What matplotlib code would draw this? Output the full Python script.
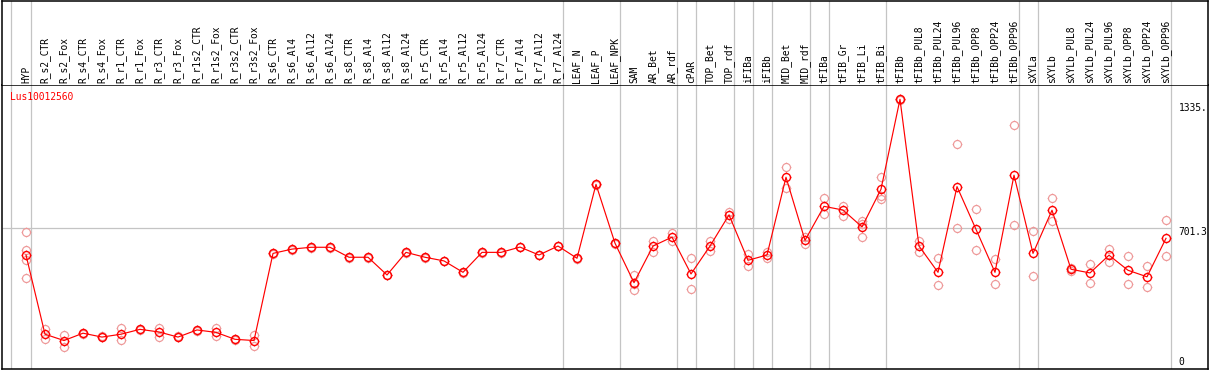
"""
Expression profile of one gene across sample groups (mean + replicates).
"""

import numpy as np
import matplotlib
matplotlib.use("Agg")
import matplotlib.pyplot as plt
from matplotlib.path import Path

W, H = 1209, 370

gene = "Lus10012560"

categories = [
    "HYP", "R_s2_CTR", "R_s2_Fox", "R_s4_CTR", "R_s4_Fox", "R_r1_CTR",
    "R_r1_Fox", "R_r3_CTR", "R_r3_Fox", "R_r1s2_CTR", "R_r1s2_Fox",
    "R_r3s2_CTR", "R_r3s2_Fox", "R_s6_CTR", "R_s6_Al4", "R_s6_Al12",
    "R_s6_Al24", "R_s8_CTR", "R_s8_Al4", "R_s8_Al12", "R_s8_Al24",
    "R_r5_CTR", "R_r5_Al4", "R_r5_Al12", "R_r5_Al24", "R_r7_CTR",
    "R_r7_Al4", "R_r7_Al12", "R_r7_Al24", "LEAF_N", "LEAF_P", "LEAF_NPK",
    "SAM", "AR_Bet", "AR_rdf", "cPAR", "TOP_Bet", "TOP_rdf", "iFIBa",
    "iFIBb", "MID_Bet", "MID_rdf", "tFIBa", "tFIB_Gr", "tFIB_Li", "tFIB_Bi",
    "tFIBb", "tFIBb_PUL8", "tFIBb_PUL24", "tFIBb_PUL96", "tFIBb_OPP8",
    "tFIBb_OPP24", "tFIBb_OPP96", "sXYLa", "sXYLb", "sXYLb_PUL8",
    "sXYLb_PUL24", "sXYLb_PUL96", "sXYLb_OPP8", "sXYLb_OPP24", "sXYLb_OPP96",
]

means = [
    570, 181, 150, 186, 167, 181, 205, 192, 167, 202, 190, 156, 150,
    578, 599, 608, 608, 559, 559, 472, 583, 559, 541, 485, 583, 583,
    609, 570, 614, 554, 917, 628, 434, 614, 658, 477, 614, 767, 544,
    570, 952, 642, 809, 791, 708, 893, 1335, 614, 485, 906, 696, 485,
    962, 578, 790, 500, 482, 569, 495, 463, 652,
]

replicates = [
    [682, 595, 546, 456], [207, 156], [179, 120], [188, 183], [165, 170],
    [210, 153], [208, 202], [213, 167], [165, 170], [199, 204], [210, 172],
    [158, 154], [177, 122],
    [576, 580], [597, 601], [606, 610], [606, 610], [557, 561], [557, 561],
    [470, 474], [581, 585], [557, 561], [539, 543], [483, 487], [581, 585],
    [581, 585], [607, 611], [568, 572], [612, 616],
    [552, 556], [915, 919], [626, 630],
    [472, 430, 400], [640, 583], [677, 640], [554, 402], [637, 590],
    [783, 746], [574, 518], [554, 586], [1001, 901], [660, 623], [849, 770],
    [812, 762], [737, 720, 657], [955, 860, 845], [1333, 1337],
    [640, 586], [554, 421], [1114, 701], [795, 593], [550, 426], [1207, 716],
    [687, 467], [849, 737], [506, 493], [526, 433], [598, 534], [564, 428],
    [515, 413], [741, 564],
]

# last index of each sample group; a gray rule is drawn just after it
group_ends = [-1, 0, 28, 31, 34, 35, 37, 38, 39, 41, 42, 45, 52, 53, 60]

grid_value = 701.3
axis_values = [0, 701.3, 1335]
axis_labels = ["0", "701.3", "1335."]

RED = "#ff0000"
PINK = "#ee9999"
GRAY = "#c4c4c4"


def px_box(x0, y0, x1, y1):
    """Figure-fraction rect from pixel corners (origin top-left)."""
    return [x0 / W, 1 - y1 / H, (x1 - x0) / W, (y1 - y0) / H]


def ringed_marker():
    """Open circle with four short ticks sticking out of it."""
    parts = [Path.unit_circle()]
    for dx, dy in [(0, 1), (0, -1), (1, 0), (-1, 0)]:
        parts.append(Path([[dx, dy], [dx * 1.22, dy * 1.22]],
                          [Path.MOVETO, Path.LINETO]))
    return Path.make_compound_path(*parts)


mk = ringed_marker()
x = np.arange(len(categories))
sep_x = [g + 0.25 for g in group_ends]
sep_x[0] = group_ends[0] + 0.2

fig = plt.figure(figsize=(W / 100, H / 100), dpi=100)
ax = fig.add_axes(px_box(1.5, 85, 1208, 368.5))
hx = fig.add_axes(px_box(1.5, 0.5, 1208, 85), sharex=ax)

xlim = ((1.5 - 26) / 19, (1208 - 26) / 19)
ax.set_xlim(*xlim)
ax.set_ylim(12.6, 1405)
hx.set_ylim(0, 1)

for a in (ax, hx):
    a.set_xticks([])
    a.set_yticks([])
    for s in a.spines.values():
        s.set_color("black")
        s.set_linewidth(1.1)
    for sx in sep_x:
        a.axvline(sx, color=GRAY, lw=0.9, zorder=1)
hx.spines["bottom"].set_visible(False)

ax.hlines(grid_value, xlim[0], sep_x[-1], color=GRAY, lw=0.9, zorder=1)

# replicate points
for i, reps in enumerate(replicates):
    ax.plot([i] * len(reps), reps, linestyle="none", marker=mk,
            markersize=7, markerfacecolor="none", markeredgecolor=PINK,
            markeredgewidth=0.85, zorder=2)

ax.plot(x, means, color=RED, lw=0.85, zorder=3)
ax.plot(x, means, linestyle="none", marker=mk, markersize=7,
        markerfacecolor="none", markeredgecolor=RED, markeredgewidth=1.0,
        zorder=4)

# sample names in the header
for i, name in enumerate(categories):
    hx.text(i, 2.0 / 85, name, rotation=90, ha="center", va="bottom",
            fontsize=6.9, family="DejaVu Sans Mono", color="black")

# value labels at the right edge (nudged to stay inside the frame)
nudge = [9, -4, -8.5]
for v, lab, dy in zip(axis_values, axis_labels, nudge):
    ax.annotate(lab, xy=(sep_x[-1], v), xytext=(8, dy),
                textcoords="offset pixels", ha="left", va="center",
                fontsize=6.9, family="DejaVu Sans Mono", color="black",
                annotation_clip=False)

fig.text(10 / W, 1 - 97 / H, gene, ha="left", va="center", fontsize=6.9,
         family="DejaVu Sans Mono", color=RED)

fig.savefig("out.png", dpi=100)
